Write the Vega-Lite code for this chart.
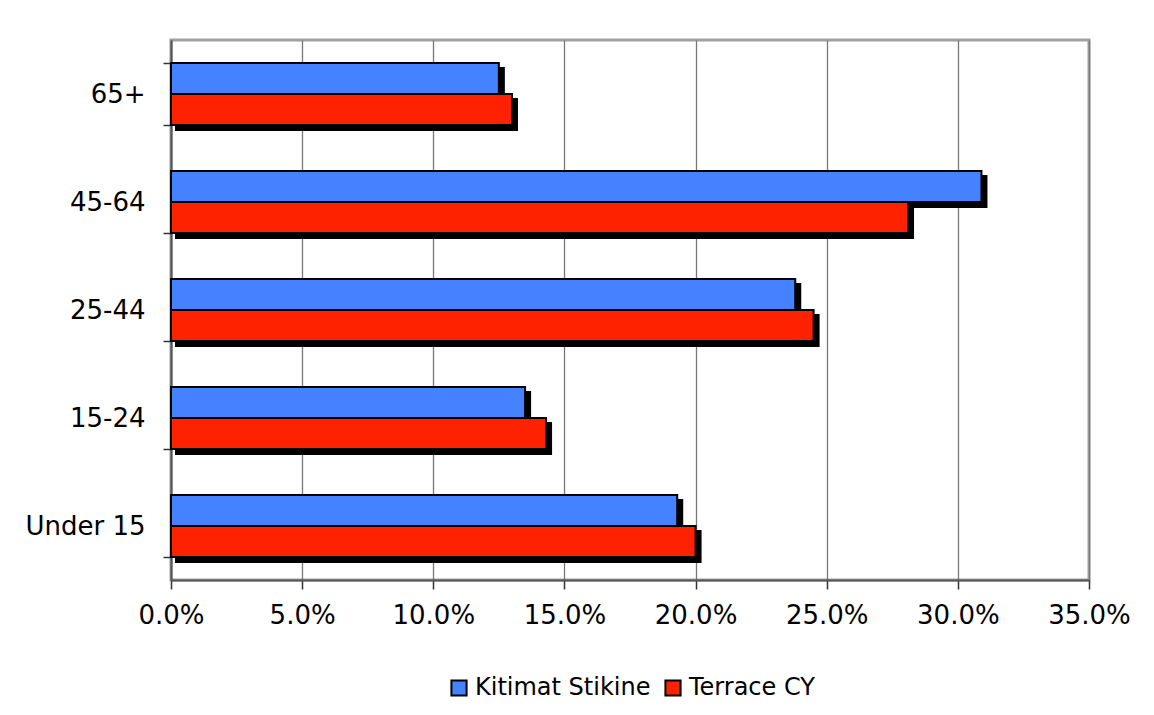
{
  "$schema": "https://vega.github.io/schema/vega-lite/v6.json",
  "autosize": {"type": "none"},
  "width": 918,
  "height": 540,
  "padding": {"left": 171, "top": 40, "right": 65, "bottom": 135},
  "background": "white",
  "data": {
    "values": [
      {"age": "65+", "area": "Kitimat Stikine", "share": 0.125},
      {"age": "65+", "area": "Terrace CY", "share": 0.130},
      {"age": "45-64", "area": "Kitimat Stikine", "share": 0.309},
      {"age": "45-64", "area": "Terrace CY", "share": 0.281},
      {"age": "25-44", "area": "Kitimat Stikine", "share": 0.238},
      {"age": "25-44", "area": "Terrace CY", "share": 0.245},
      {"age": "15-24", "area": "Kitimat Stikine", "share": 0.135},
      {"age": "15-24", "area": "Terrace CY", "share": 0.143},
      {"age": "Under 15", "area": "Kitimat Stikine", "share": 0.193},
      {"age": "Under 15", "area": "Terrace CY", "share": 0.200}
    ]
  },
  "encoding": {
    "y": {
      "field": "age",
      "type": "nominal",
      "sort": ["65+", "45-64", "25-44", "15-24", "Under 15"],
      "scale": {"paddingInner": 0.426, "paddingOuter": 0.213},
      "axis": {
        "title": null,
        "tickBand": "extent",
        "tickSize": 8,
        "tickColor": "#333333",
        "tickWidth": 1.5,
        "domainColor": "#555555",
        "domainWidth": 2,
        "labelFontSize": 26,
        "labelPadding": 18,
        "labelColor": "black",
        "labelFont": "DejaVu Sans",
        "grid": false
      }
    },
    "x": {
      "field": "share",
      "type": "quantitative",
      "scale": {"domain": [0, 0.35], "nice": false},
      "axis": {
        "title": null,
        "format": ".1%",
        "values": [0, 0.05, 0.1, 0.15, 0.2, 0.25, 0.3, 0.35],
        "grid": true,
        "gridColor": "#777777",
        "gridWidth": 1.3,
        "tickSize": 9,
        "tickColor": "#333333",
        "tickWidth": 1.5,
        "domainColor": "#555555",
        "domainWidth": 2,
        "labelFontSize": 26,
        "labelPadding": 13,
        "labelColor": "black",
        "labelFont": "DejaVu Sans",
        "labelFlush": false
      }
    }
  },
  "layer": [
    {
      "mark": {"type": "bar", "color": "black", "stroke": "black", "strokeWidth": 2, "xOffset": 5, "x2Offset": 5},
      "encoding": {
        "yOffset": {
          "field": "area",
          "type": "nominal",
          "sort": ["Kitimat Stikine", "Terrace CY"],
          "scale": {"range": [5, 67], "paddingInner": 0, "paddingOuter": 0}
        }
      }
    },
    {
      "mark": {"type": "bar", "stroke": "black", "strokeWidth": 2},
      "encoding": {
        "yOffset": {
          "field": "area",
          "type": "nominal",
          "sort": ["Kitimat Stikine", "Terrace CY"],
          "scale": {"paddingInner": 0, "paddingOuter": 0}
        },
        "color": {
          "field": "area",
          "type": "nominal",
          "scale": {"domain": ["Kitimat Stikine", "Terrace CY"], "range": ["#4482ff", "#ff2200"]},
          "legend": {
            "title": null,
            "orient": "none",
            "direction": "horizontal",
            "legendX": 276,
            "legendY": 636,
            "symbolType": "square",
            "symbolSize": 230,
            "symbolStrokeColor": "black",
            "symbolStrokeWidth": 2,
            "symbolOpacity": 1,
            "labelFontSize": 24,
            "labelFont": "DejaVu Sans",
            "labelColor": "black",
            "labelOffset": 4,
            "labelLimit": 400,
            "columnPadding": 10
          }
        }
      }
    }
  ],
  "resolve": {"scale": {"yOffset": "independent"}},
  "config": {
    "view": {"stroke": "#a0a0a0", "strokeWidth": 3},
    "font": "DejaVu Sans"
  }
}
